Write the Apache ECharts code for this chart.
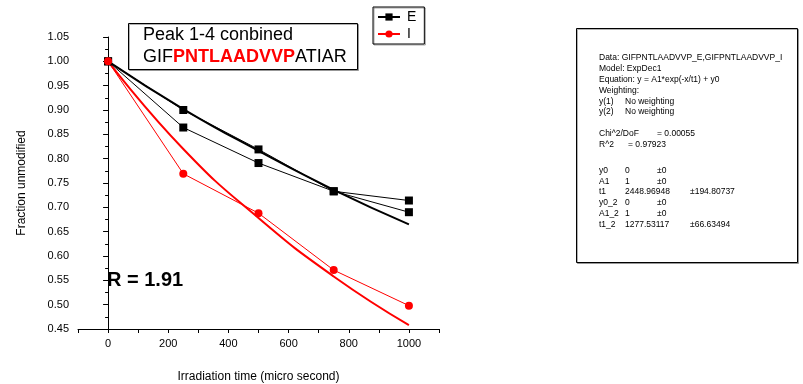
<!DOCTYPE html>
<html>
<head>
<meta charset="utf-8">
<script src="https://cdn.jsdelivr.net/npm/echarts@6/dist/echarts.min.js"></script>
<style>
  html, body { margin: 0; padding: 0; background: #fff; }
  #chart { width: 803px; height: 384px; }
</style>
</head>
<body>
<div id="chart"></div>
<script>
// irradiation times (micro second)
const times = [0, 250, 500, 750, 1000]

// measured fractions
const eUpper = [1.000, 0.900, 0.819, 0.733, 0.714]
const eLower = [1.000, 0.864, 0.791, 0.733, 0.690]
const iData = [1.000, 0.769, 0.688, 0.571, 0.498]

// fitted curves
const eFit = [1.000, 0.902, 0.816, 0.736, 0.665]
const iFit = [1.000, 0.820, 0.678, 0.558, 0.458]

// fit report, one row per line: [label, col2, col3]
const reportRows = [
  ['Data: GIFPNTLAADVVP_E,GIFPNTLAADVVP_I', '', ''],
  ['Model: ExpDec1', '', ''],
  ['Equation: y = A1*exp(-x/t1) + y0', '', ''],
  ['Weighting:', '', ''],
  ['y(1)', 'No weighting', ''],
  ['y(2)', 'No weighting', ''],
  ['', '', ''],
  ['Chi^2/DoF', '= 0.00055', ''],
  ['R^2', '= 0.97923', ''],
  ['', '', ''],
  ['y0', '0', '\u00b10'],
  ['A1', '1', '\u00b10'],
  ['t1', '2448.96948', '\u00b1194.80737'],
  ['y0_2', '0', '\u00b10'],
  ['A1_2', '1', '\u00b10'],
  ['t1_2', '1277.53117', '\u00b166.63494']
]

const font = 'Liberation Sans, Arial, sans-serif'
const pair = (xs, ys) => xs.map((x, i) => [x, ys[i]])

const chart = echarts.init(document.getElementById('chart'))

// report text positions (tab stops of the report box)
const reportGraphics = []
const rowY = [58, 69, 80, 91, 102, 112, 123, 134, 145, 156, 171, 182, 192, 203, 214, 225]
reportRows.forEach((r, i) => {
  const col2x = r[0] === 'Chi^2/DoF' ? 657 : (r[0] === 'R^2' ? 628 : 625)
  const cols = [[599, r[0]], [col2x, r[1]], [r[2] === '\u00b10' ? 657 : 690, r[2]]]
  cols.forEach(c => {
    if (!c[1]) return
    reportGraphics.push({
      type: 'text', left: c[0], top: rowY[i] - 5,
      style: { text: c[1], font: '8.5px ' + font, fill: '#000' }
    })
  })
})

chart.setOption({
  animation: false,
  backgroundColor: '#fff',
  grid: { left: 78, right: 364, top: 37, bottom: 55, containLabel: false, outerBoundsMode: 'none' },
  legend: {
    data: ['E', 'I'],
    orient: 'vertical',
    left: 373, top: 7,
    padding: [3, 8, 3, 4],
    itemGap: 3,
    itemWidth: 22, itemHeight: 9,
    borderColor: '#000', borderWidth: 1,
    shadowColor: 'rgba(0,0,0,0.35)', shadowOffsetX: 1, shadowOffsetY: 1,
    textStyle: { fontSize: 14, color: '#000', fontFamily: font, padding: [0, 0, 0, 2] }
  },
  xAxis: {
    type: 'value', min: -100, max: 1100, interval: 100,
    name: 'Irradiation time (micro second)', nameLocation: 'middle', nameGap: 42,
    nameTextStyle: { fontSize: 12, color: '#000', fontFamily: font },
    axisLine: { show: true, lineStyle: { color: '#000', width: 1 } },
    axisTick: { show: true, length: 4, lineStyle: { color: '#000' } },
    axisLabel: {
      color: '#000', fontSize: 11, fontFamily: font, margin: 9,
      formatter: v => (v >= 0 && v <= 1000 && v % 200 === 0) ? String(v) : ''
    },
    splitLine: { show: false }
  },
  yAxis: {
    type: 'value', min: 0.45, max: 1.05, interval: 0.05,
    name: 'Fraction unmodified', nameLocation: 'middle', nameGap: 50,
    nameTextStyle: { fontSize: 12, color: '#000', fontFamily: font },
    axisLine: { show: true, lineStyle: { color: '#000', width: 1 } },
    axisTick: { show: true, length: 5, lineStyle: { color: '#000' } },
    minorTick: { show: true, splitNumber: 2, length: 3, lineStyle: { color: '#000' } },
    axisLabel: {
      color: '#000', fontSize: 11, fontFamily: font, margin: 9,
      formatter: v => v.toFixed(2)
    },
    splitLine: { show: false }
  },
  series: [
    {
      name: 'E fit', type: 'line', data: pair(times, eFit), smooth: true,
      symbol: 'none', lineStyle: { color: '#000', width: 2 }, z: 2
    },
    {
      name: 'I fit', type: 'line', data: pair(times, iFit), smooth: true,
      symbol: 'none', lineStyle: { color: '#ff0000', width: 2 }, z: 2
    },
    {
      name: 'E2', type: 'line', data: pair(times, eLower),
      symbol: 'rect', symbolSize: 8, itemStyle: { color: '#000' },
      lineStyle: { color: '#000', width: 1 }, z: 3
    },
    {
      name: 'E', type: 'line', data: pair(times, eUpper),
      symbol: 'rect', symbolSize: 8, itemStyle: { color: '#000' },
      lineStyle: { color: '#000', width: 1 }, z: 3
    },
    {
      name: 'I', type: 'line', data: pair(times, iData),
      symbol: 'circle', symbolSize: 8, itemStyle: { color: '#ff0000' },
      lineStyle: { color: '#ff0000', width: 1 }, z: 3
    }
  ],
  graphic: [
    // title box
    {
      type: 'rect', left: 128, top: 23, z: 10,
      shape: { width: 229, height: 46 },
      style: { fill: '#fff', stroke: '#000', lineWidth: 1, shadowColor: 'rgba(0,0,0,0.3)', shadowOffsetX: 1, shadowOffsetY: 1 }
    },
    {
      type: 'text', left: 143, top: 26, z: 11,
      style: { text: 'Peak 1-4 conbined', font: '18px ' + font, fill: '#000' }
    },
    {
      type: 'text', left: 143, top: 48, z: 11,
      style: {
        text: '{n|GIF}{r|PNTLAADVVP}{n|ATIAR}',
        rich: {
          n: { fontSize: 18, fontFamily: font, fill: '#000' },
          r: { fontSize: 18, fontFamily: font, fontWeight: 'bold', fill: '#ff0000' }
        }
      }
    },
    {
      type: 'text', left: 107, top: 270, z: 11,
      style: { text: 'R = 1.91', font: 'bold 20px ' + font, fill: '#000' }
    },
    // fit report box
    {
      type: 'rect', left: 576, top: 28, z: 10,
      shape: { width: 221, height: 234 },
      style: { fill: '#fff', stroke: '#000', lineWidth: 1, shadowColor: 'rgba(0,0,0,0.3)', shadowOffsetX: 1, shadowOffsetY: 1 }
    },
    ...reportGraphics.map(g => Object.assign(g, { z: 11 }))
  ]
})
</script>
</body>
</html>
